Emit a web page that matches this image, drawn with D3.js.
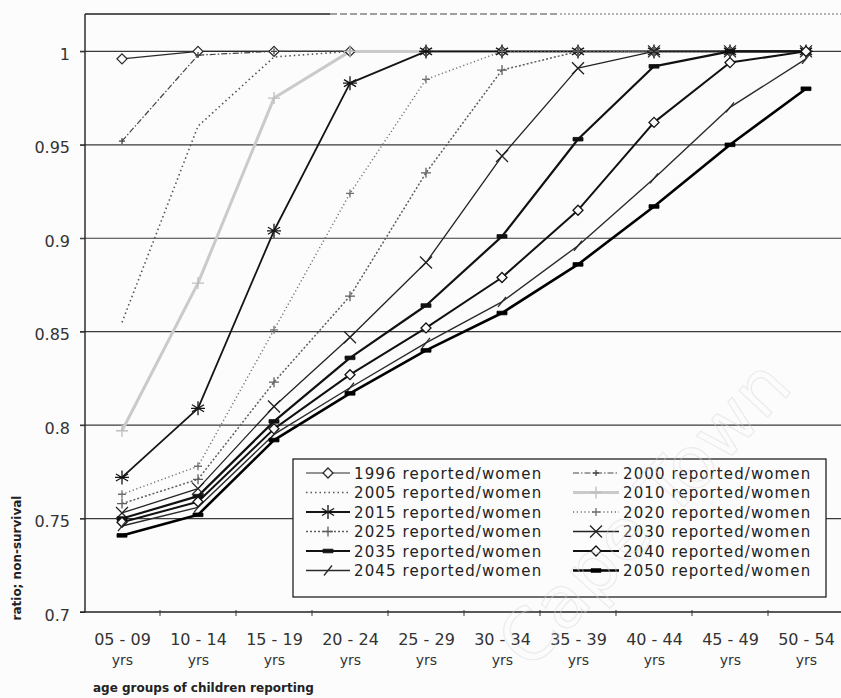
<!DOCTYPE html>
<html><head><meta charset="utf-8">
<script src="https://cdn.jsdelivr.net/npm/d3@7"></script>
<style>
html,body{margin:0;padding:0;background:#fcfcfc;}
svg{display:block;}
</style></head><body>
<svg id="chart" width="841" height="698"></svg>
<script>
// ---------- data ----------
const categories = ["05 - 09","10 - 14","15 - 19","20 - 24","25 - 29","30 - 34","35 - 39","40 - 44","45 - 49","50 - 54"];
const categoryUnit = "yrs";
const yTickValues = [0.7, 0.75, 0.8, 0.85, 0.9, 0.95, 1];
const gridValues = [0.75, 0.8, 0.85, 0.9, 0.95, 1];
const seriesYears = ["1996","2000","2005","2010","2015","2020","2025","2030","2035","2040","2045","2050"];
const seriesSuffix = " reported/women";

const v1996 = [0.996, 1.000, 1.000, 1.000, 1.000, 1.000, 1.000, 1.000, 1.000, 1.000];
const v2000 = [0.952, 0.998, 1.000, 1.000, 1.000, 1.000, 1.000, 1.000, 1.000, 1.000];
const v2005 = [0.855, 0.960, 0.997, 1.000, 1.000, 1.000, 1.000, 1.000, 1.000, 1.000];
const v2010 = [0.797, 0.876, 0.975, 1.000, 1.000, 1.000, 1.000, 1.000, 1.000, 1.000];
const v2015 = [0.772, 0.809, 0.904, 0.983, 1.000, 1.000, 1.000, 1.000, 1.000, 1.000];
const v2020 = [0.763, 0.778, 0.851, 0.924, 0.985, 1.000, 1.000, 1.000, 1.000, 1.000];
const v2025 = [0.758, 0.771, 0.823, 0.869, 0.935, 0.990, 1.000, 1.000, 1.000, 1.000];
const v2030 = [0.753, 0.766, 0.810, 0.847, 0.887, 0.944, 0.991, 1.000, 1.000, 1.000];
const v2035 = [0.750, 0.762, 0.802, 0.836, 0.864, 0.901, 0.953, 0.992, 1.000, 1.000];
const v2040 = [0.748, 0.759, 0.798, 0.827, 0.852, 0.879, 0.915, 0.962, 0.994, 1.000];
const v2045 = [0.746, 0.756, 0.795, 0.820, 0.844, 0.866, 0.896, 0.932, 0.970, 0.996];
const v2050 = [0.741, 0.752, 0.792, 0.817, 0.840, 0.860, 0.886, 0.917, 0.950, 0.980];

const seriesValues = [v1996, v2000, v2005, v2010, v2015, v2020, v2025, v2030, v2035, v2040, v2045, v2050];

// ---------- styles ----------
const styles = {
  "1996": {stroke:"#2a2a2a", width:1.2, dash:null, marker:"diamond", m:5},
  "2000": {stroke:"#444", width:1.2, dash:"6,2,1.5,2", marker:"plus", m:3},
  "2005": {stroke:"#555", width:1.6, dash:"1.5,3", marker:null},
  "2010": {stroke:"#cacaca", width:3.0, dash:null, marker:"plus", m:6, mColor:"#bebebe"},
  "2015": {stroke:"#151515", width:1.8, dash:null, marker:"asterisk", m:7},
  "2020": {stroke:"#707070", width:1.4, dash:"1.2,2.6", marker:"plus", m:4},
  "2025": {stroke:"#5d5d5d", width:1.5, dash:"2,2", marker:"plus", m:5},
  "2030": {stroke:"#222", width:1.3, dash:null, marker:"cross", m:6},
  "2035": {stroke:"#111", width:2.2, dash:null, marker:"bar", m:5},
  "2040": {stroke:"#111", width:2.0, dash:null, marker:"diamond", m:5},
  "2045": {stroke:"#2a2a2a", width:1.4, dash:null, marker:"slash", m:5},
  "2050": {stroke:"#000", width:2.6, dash:null, marker:"bar", m:5}
};

function markerPath(type, r) {
  switch (type) {
    case "diamond": return `M0,${-r}L${r},0L0,${r}L${-r},0Z`;
    case "plus": return `M${-r},0H${r}M0,${-r}V${r}`;
    case "cross": return `M${-r},${-r}L${r},${r}M${-r},${r}L${r},${-r}`;
    case "asterisk": {
      const a = r*0.866, b = r*0.5;
      return `M0,${-r}V${r}M${-a},${-b}L${a},${b}M${-a},${b}L${a},${-b}M${-r},0H${r}`;
    }
    case "bar": return `M${-r},-1.8H${r}V1.8H${-r}Z`;
    case "slash": return `M${-r*0.8},${r}L${r*0.8},${-r}`;
  }
  return "";
}

// ---------- layout ----------
const svg = d3.select("#chart");
const plotLeft = 85, plotTop = 14, plotBottom = 612, plotRight = 841;

const x = d3.scalePoint().domain(categories).range([122, 806]);
const y = d3.scaleLinear().domain([0.7, 1.02]).range([plotBottom, plotTop]);

// gridlines
svg.append("g").selectAll("line").data(gridValues).join("line")
  .attr("x1", 80).attr("x2", plotRight)
  .attr("y1", d => y(d)).attr("y2", d => y(d))
  .attr("stroke", "#3a3a3a").attr("stroke-width", 1.2);

// top border
svg.append("line").attr("x1", plotLeft).attr("x2", 330).attr("y1", plotTop).attr("y2", plotTop)
  .attr("stroke", "#222").attr("stroke-width", 1.3);
svg.append("line").attr("x1", 330).attr("x2", 560).attr("y1", plotTop).attr("y2", plotTop)
  .attr("stroke", "#444").attr("stroke-width", 1.2).attr("stroke-dasharray", "7,3");
svg.append("line").attr("x1", 560).attr("x2", plotRight).attr("y1", plotTop).attr("y2", plotTop)
  .attr("stroke", "#666").attr("stroke-width", 1.2).attr("stroke-dasharray", "2,2");

// series lines
const line = d3.line().x((d, i) => x(categories[i])).y(d => y(d));
const seriesG = svg.append("g");
seriesYears.forEach((yr, si) => {
  const st = styles[yr];
  seriesG.append("path")
    .attr("d", line(seriesValues[si]))
    .attr("fill", "none")
    .attr("stroke", st.stroke)
    .attr("stroke-width", st.width)
    .attr("stroke-dasharray", st.dash)
    .attr("stroke-linejoin", "round");
});
seriesYears.forEach((yr, si) => {
  const st = styles[yr];
  if (!st.marker) return;
  const col = st.mColor || st.stroke;
  seriesG.append("g").selectAll("path").data(seriesValues[si]).join("path")
    .attr("transform", (d, i) => `translate(${x(categories[i])},${y(d)})`)
    .attr("d", markerPath(st.marker, st.m))
    .attr("fill", st.marker === "diamond" ? "#fcfcfc" : (st.marker === "bar" ? col : "none"))
    .attr("stroke", col)
    .attr("stroke-width", st.marker === "bar" ? 0.8 : 1.3);
});

// y axis
const yAxis = svg.append("g").attr("transform", `translate(${plotLeft},0)`)
  .call(d3.axisLeft(y).tickValues(yTickValues).tickSize(5).tickFormat(d => String(+d.toFixed(2))));
yAxis.select(".domain").attr("d", `M0,${plotTop}V${plotBottom}`).attr("stroke", "#222").attr("stroke-width", 1.4);
yAxis.selectAll(".tick line").attr("stroke", "#333");
yAxis.selectAll(".tick text")
  .attr("x", -15).attr("dy", "0.5em")
  .attr("font-family", "DejaVu Sans, sans-serif").attr("font-size", 16).attr("fill", "#333");

// x axis
const xAxis = svg.append("g").attr("transform", `translate(0,${plotBottom})`)
  .call(d3.axisBottom(x).tickSize(0).tickPadding(0));
xAxis.select(".domain").attr("d", `M80,0H${plotRight}`).attr("stroke", "#222").attr("stroke-width", 1.4);
xAxis.selectAll(".tick text").each(function(d) {
  const t = d3.select(this);
  t.text(null).attr("y", 0).attr("dy", null)
    .attr("font-family", "DejaVu Sans, sans-serif").attr("fill", "#333");
  t.append("tspan").attr("x", 0).attr("y", 33).attr("font-size", 16).text(d);
  t.append("tspan").attr("x", 0).attr("y", 53).attr("font-size", 14).text(categoryUnit);
});
// boundary ticks
const step = x.step();
xAxis.append("g").selectAll("line").data(categories.slice(1)).join("line")
  .attr("x1", d => x(d) - step / 2).attr("x2", d => x(d) - step / 2)
  .attr("y1", -2).attr("y2", 4).attr("stroke", "#333");

// axis titles
svg.append("text")
  .attr("x", 93).attr("y", 692)
  .attr("font-family", "DejaVu Sans, sans-serif").attr("font-weight", "bold")
  .attr("font-size", 12).attr("fill", "#222")
  .text("age groups of children reporting");
svg.append("text")
  .attr("transform", "translate(21,558) rotate(-90)")
  .attr("text-anchor", "middle")
  .attr("font-family", "DejaVu Sans, sans-serif").attr("font-weight", "bold")
  .attr("font-size", 12).attr("fill", "#222")
  .text("ratio; non-survival");

// legend
const lg = svg.append("g");
lg.append("rect").attr("x", 293).attr("y", 459).attr("width", 533).attr("height", 138)
  .attr("fill", "#fcfcfc").attr("stroke", "#222").attr("stroke-width", 1.3);
seriesYears.forEach((yr, si) => {
  const st = styles[yr];
  const row = Math.floor(si / 2), col = si % 2;
  const cy = 473 + row * 19.5;
  const sx0 = col === 0 ? 306 : 573, sx1 = col === 0 ? 350 : 619;
  const tx = col === 0 ? 354 : 623;
  lg.append("line").attr("x1", sx0).attr("x2", sx1).attr("y1", cy).attr("y2", cy)
    .attr("stroke", st.stroke).attr("stroke-width", st.width).attr("stroke-dasharray", st.dash);
  if (st.marker) {
    const c = st.mColor || st.stroke;
    lg.append("path").attr("transform", `translate(${(sx0 + sx1) / 2},${cy})`)
      .attr("d", markerPath(st.marker, st.m))
      .attr("fill", st.marker === "diamond" ? "#fcfcfc" : (st.marker === "bar" ? c : "none"))
      .attr("stroke", c).attr("stroke-width", st.marker === "bar" ? 0.8 : 1.3);
  }
  lg.append("text").attr("x", tx).attr("y", cy + 5.5)
    .attr("font-family", "DejaVu Sans, sans-serif").attr("font-size", 15)
    .attr("letter-spacing", "1.1px").attr("fill", "#222")
    .text(yr + seriesSuffix);
});

// faint watermark on top (as in the scanned reference)
svg.append("text")
  .attr("transform", "translate(530,672) rotate(-47)")
  .attr("font-family", "DejaVu Sans, sans-serif")
  .attr("font-size", 72)
  .attr("fill", "none")
  .attr("stroke", "#d8d8d8")
  .attr("stroke-opacity", 0.45)
  .attr("stroke-width", 1.2)
  .text("Cape Town");
</script>
</body></html>
